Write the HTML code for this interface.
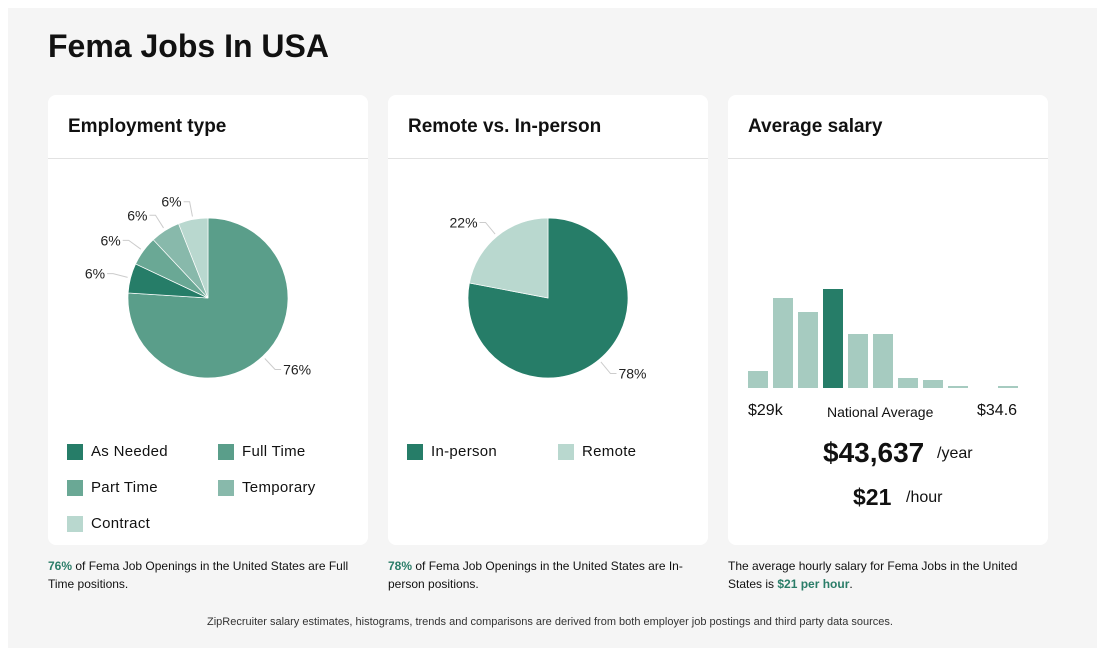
<!DOCTYPE html>
<html><head><meta charset="utf-8"><style>
body{margin:0;width:1100px;height:651px;background:#fff;font-family:"Liberation Sans",sans-serif;position:relative;overflow:hidden;color:#111}
.panel{position:absolute;left:8px;top:8px;width:1089px;height:640px;background:#f5f5f5}
h1{position:absolute;left:48px;top:28px;margin:0;font-size:32px;font-weight:bold}
.card{position:absolute;top:95px;width:320px;height:450px;background:#fff;border-radius:8px}
.card h2{margin:0;position:absolute;left:20px;top:21px;font-size:19px;font-weight:bold}
.card .hr{position:absolute;left:0;right:0;top:63px;border-top:1px solid #e2e2e2}
.leg{position:absolute;font-size:15px;letter-spacing:.3px}
.leg i{position:absolute;left:0;top:1px;width:16px;height:16px}
.leg span{position:absolute;left:24px;top:0;white-space:nowrap}
.note{position:absolute;top:557px;width:310px;font-size:12px;line-height:18px}
.note b{color:#2a7d68}
</style></head><body>
<div class="panel"></div>
<h1>Fema Jobs In USA</h1>

<div class="card" style="left:48px">
<h2>Employment type</h2><div class="hr"></div>
<svg id="pie1" width="320" height="260" style="position:absolute;left:0;top:70px"></svg>
<div class="leg" style="left:19px;top:348px"><i style="background:#267d68"></i><span>As Needed</span></div>
<div class="leg" style="left:170px;top:348px"><i style="background:#5a9e8a"></i><span>Full Time</span></div>
<div class="leg" style="left:19px;top:384px"><i style="background:#6aa895"></i><span>Part Time</span></div>
<div class="leg" style="left:170px;top:384px"><i style="background:#88b9ab"></i><span>Temporary</span></div>
<div class="leg" style="left:19px;top:420px"><i style="background:#b9d8cf"></i><span>Contract</span></div>
</div>

<div class="card" style="left:388px">
<h2>Remote vs. In-person</h2><div class="hr"></div>
<svg id="pie2" width="320" height="260" style="position:absolute;left:0;top:70px"></svg>
<div class="leg" style="left:19px;top:348px"><i style="background:#267d68"></i><span>In-person</span></div>
<div class="leg" style="left:170px;top:348px"><i style="background:#b9d8cf"></i><span>Remote</span></div>
</div>

<div class="card" style="left:728px">
<h2>Average salary</h2><div class="hr"></div>
<svg id="hist" width="320" height="110" style="position:absolute;left:0;top:185px"></svg>
<div style="position:absolute;left:20px;top:307px;font-size:16px">$29k</div>
<div style="position:absolute;left:99px;top:309px;font-size:14px">National Average</div>
<div style="position:absolute;left:249px;top:307px;font-size:16px">$34.6</div>
<div style="position:absolute;left:95px;top:342px;font-size:28px;font-weight:bold">$43,637</div>
<div style="position:absolute;left:209px;top:350px;font-size:16px">/year</div>
<div style="position:absolute;left:125px;top:389px;font-size:23px;font-weight:bold">$21</div>
<div style="position:absolute;left:178px;top:394px;font-size:16px">/hour</div>
</div>

<div class="note" style="left:48px"><b>76%</b> of Fema Job Openings in the United States are Full Time positions.</div>
<div class="note" style="left:388px"><b>78%</b> of Fema Job Openings in the United States are In-person positions.</div>
<div class="note" style="left:728px;width:300px">The average hourly salary for Fema Jobs in the United States is <b>$21 per hour</b>.</div>
<div style="position:absolute;left:0;width:1100px;top:616px;text-align:center;font-size:11px;color:#333">ZipRecruiter salary estimates, histograms, trends and comparisons are derived from both employer job postings and third party data sources.</div>

<script>
const empCats=["Full Time","As Needed","Part Time","Temporary","Contract"];
const empVals=[76,6,6,6,6];
const empColors=["#5a9e8a","#267d68","#6aa895","#88b9ab","#b9d8cf"];
const remCats=["In-person","Remote"];
const remVals=[78,22];
const remColors=["#267d68","#b9d8cf"];
const histVals=[17,90,76,99,54,54,10,8,2,0,2];
const histHighlight=3;
const NS="http://www.w3.org/2000/svg";
function mk(t,a){const e=document.createElementNS(NS,t);for(const k in a)e.setAttribute(k,a[k]);return e;}
function pie(svg,vals,colors,names,cx,cy,r){
 const tot=vals.reduce((a,b)=>a+b,0);let a0=0;
 vals.forEach((v,i)=>{
  const a1=a0+v/tot*2*Math.PI;
  const p=(a)=>[cx+r*Math.sin(a),cy-r*Math.cos(a)];
  const [x0,y0]=p(a0),[x1,y1]=p(a1);
  const path=mk("path",{d:`M${cx},${cy}L${x0},${y0}A${r},${r} 0 ${a1-a0>Math.PI?1:0} 1 ${x1},${y1}Z`,fill:colors[i],stroke:"#fff","stroke-width":"0.7"});
  
  
  svg.appendChild(path);
  const m=(a0+a1)/2;
  const ex=cx+(r+3)*Math.sin(m),ey=cy-(r+3)*Math.cos(m);
  const lx=cx+(r+18)*Math.sin(m),ly=cy-(r+18)*Math.cos(m);
  const right=Math.sin(m)>=0;
  const hx=lx+(right?6:-6);
  svg.appendChild(mk("polyline",{points:`${ex},${ey} ${lx},${ly} ${hx},${ly}`,fill:"none",stroke:"#ccc","stroke-width":"1"}));
  const t=mk("text",{x:hx+(right?2:-2),y:ly+5,"font-size":"14","text-anchor":right?"start":"end",fill:"#222"});
  t.textContent=Math.round(v/tot*100)+"%";
  
  
  svg.appendChild(t);
  a0=a1;
 });
}
pie(document.getElementById("pie1"),empVals,empColors,empCats,160,133,80);
pie(document.getElementById("pie2"),remVals,remColors,remCats,160,133,80);
const hs=document.getElementById("hist");
const maxV=100,base=108,hPx=100;
histVals.forEach((v,i)=>{
 const h=v/maxV*hPx;
 const r=mk("rect",{x:20+i*25,y:base-h,width:20,height:h,fill:i===histHighlight?"#267d68":"#a6cbc0"});
 
 
 hs.appendChild(r);
});
</script>
</body></html>
